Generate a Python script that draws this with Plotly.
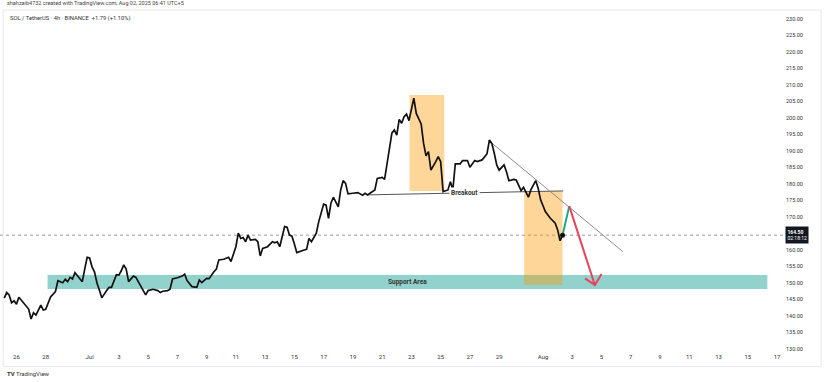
import pandas as pd
import plotly.graph_objects as go

START = pd.Timestamp("2025-06-26 00:00")

# hours since Jun 26 00:00 (4h bars) and close prices
bar_hours = [-20, -16, -12, -8, -4, 0, 4, 8, 12, 16, 20, 24, 28, 32, 40, 44, 48, 56, 64, 68,
             76, 80, 84, 88, 92, 96, 104, 108, 112, 116, 120, 124, 128, 132, 136, 140, 148, 152, 156, 164,
             168, 172, 176, 180, 184, 192, 196, 200, 208, 212, 216, 224, 232, 236, 240, 248, 252, 256, 264, 272,
             276, 280, 288, 296, 300, 304, 312, 316, 324, 328, 332, 340, 348, 352, 360, 364, 368, 372, 376, 380,
             384, 392, 396, 400, 404, 412, 420, 424, 428, 432, 440, 444, 448, 452, 456, 460, 472, 476, 480, 484,
             492, 496, 504, 508, 512, 516, 520, 524, 528, 532, 536, 540, 544, 552, 560, 568, 572, 576, 584, 588,
             592, 600, 604, 608, 612, 616, 620, 624, 628, 632, 636, 640, 644, 648, 652, 656, 664, 668, 672, 676,
             680, 688, 692, 696, 700, 708, 712, 716, 720, 728, 732, 740, 744, 752, 756, 764, 772, 776, 780, 784,
             788, 792, 800, 804, 808, 816, 820, 828, 832, 840, 844, 852, 856, 860, 868, 876, 884, 888, 892, 896]
close = [145.4, 147.1, 146.4, 144.0, 144.6, 143.6, 145.7, 144.8, 143.6, 142.8, 142.1, 139.1, 141.0, 140.3, 143.3, 141.8, 142.0, 145.8, 147.4, 150.7,
         150.1, 151.1, 150.4, 151.7, 151.2, 153.1, 151.1, 150.4, 154.2, 157.8, 157.6, 154.9, 153.4, 150.1, 147.9, 145.5, 147.7, 148.7, 148.7, 152.5,
         152.4, 153.7, 155.5, 154.2, 150.4, 152.1, 151.7, 150.4, 147.6, 146.4, 147.7, 148.1, 147.7, 147.1, 147.5, 147.7, 148.1, 151.2, 151.6, 152.1,
         152.7, 150.7, 148.9, 148.7, 150.9, 150.1, 151.4, 151.3, 153.4, 154.2, 157.0, 157.2, 157.8, 156.5, 161.0, 165.1, 163.5, 163.8, 162.5, 164.5,
         163.0, 163.2, 162.5, 158.2, 160.5, 161.0, 162.5, 162.2, 162.5, 161.0, 167.1, 166.9, 164.5, 164.2, 161.8, 159.2, 160.0, 160.2, 163.5, 162.5,
         165.1, 168.6, 173.9, 173.6, 169.6, 174.2, 176.0, 174.3, 173.1, 178.2, 181.0, 180.2, 177.0, 177.2, 177.4, 176.6, 177.2, 176.7, 177.7, 178.2,
         181.7, 182.0, 181.4, 186.3, 190.6, 195.4, 196.4, 194.8, 199.6, 198.4, 200.4, 201.2, 199.2, 202.4, 206.0, 201.4, 198.2, 192.3, 188.5, 189.8,
         184.2, 186.8, 188.3, 186.8, 177.7, 178.2, 180.7, 178.2, 186.1, 186.1, 187.1, 187.1, 185.1, 187.1, 186.8, 187.3, 189.1, 193.3, 192.3, 189.3,
         185.8, 184.2, 185.8, 183.7, 181.0, 181.4, 181.2, 178.0, 179.0, 176.0, 178.2, 181.0, 178.7, 175.2, 171.6, 169.6, 168.1, 166.1, 162.8, 164.5]

last_price = 164.50
countdown = "02:18:12"

# drawings (hours since Jun 26, price)
support_hours = [51, 1232]
support_prices = [148.2, 152.4]
box1_hours = [645, 702]
box1_prices = [177.9, 207.0]
box2_hours = [833, 896]
box2_prices = [149.4, 177.9]
breakout_hours = [576, 897]
breakout_prices = [176.7, 177.9]
trend_hours = [774, 995]
trend_prices = [193.3, 159.5]
green_hours = [896, 907]
green_prices = [164.5, 173.3]
red_hours = [907, 949]
red_prices = [173.3, 149.4]
head_hours = [933, 949, 960]
head_prices = [151.4, 149.4, 152.7]

tick_dates = ["2025-06-26", "2025-06-28", "2025-07-01", "2025-07-03", "2025-07-05", "2025-07-07",
              "2025-07-09", "2025-07-11", "2025-07-13", "2025-07-15", "2025-07-17", "2025-07-19",
              "2025-07-21", "2025-07-23", "2025-07-25", "2025-07-27", "2025-07-29", "2025-08-01",
              "2025-08-03", "2025-08-05", "2025-08-07", "2025-08-09", "2025-08-11", "2025-08-13",
              "2025-08-15", "2025-08-17"]
tick_text = ["26", "28", "Jul", "3", "5", "7", "9", "11", "13", "15", "17", "19", "21", "23",
             "25", "27", "29", "Aug", "3", "5", "7", "9", "11", "13", "15", "17"]
# 165.00 is hidden behind the last-price label in the reference
price_ticks = [130, 135, 140, 145, 150, 155, 160, 170, 175, 180, 185, 190, 195, 200,
               205, 210, 215, 220, 225, 230]


def T(h):
    return START + pd.Timedelta(hours=h)


FONT = "Roboto"
times = [T(h) for h in bar_hours]

fig = go.Figure()

shapes = [
    dict(type="rect", xref="x", yref="y", x0=T(support_hours[0]), x1=T(support_hours[1]),
         y0=support_prices[0], y1=support_prices[1], fillcolor="rgba(38,166,154,0.5)",
         line=dict(width=0), layer="below"),
    dict(type="rect", xref="x", yref="y", x0=T(box1_hours[0]), x1=T(box1_hours[1]),
         y0=box1_prices[0], y1=box1_prices[1], fillcolor="rgba(255,152,0,0.4)",
         line=dict(width=0), layer="below"),
    dict(type="rect", xref="x", yref="y", x0=T(box2_hours[0]), x1=T(box2_hours[1]),
         y0=box2_prices[0], y1=box2_prices[1], fillcolor="rgba(255,152,0,0.4)",
         line=dict(width=0), layer="below"),
    dict(type="line", xref="paper", yref="y", x0=0, x1=1, y0=last_price, y1=last_price,
         line=dict(color="#9a9a9a", width=1, dash="dot"), layer="below"),
    # faint chart frame
    dict(type="rect", xref="paper", yref="paper", x0=0.004, x1=1.046, y0=-0.043, y1=1.0,
         line=dict(color="#e6e8ee", width=1), fillcolor="rgba(0,0,0,0)", layer="below"),
]
fig.update_layout(shapes=shapes)

fig.add_trace(go.Scatter(x=[T(h) for h in breakout_hours], y=breakout_prices, mode="lines",
                         line=dict(color="#555555", width=1), hoverinfo="skip"))
fig.add_trace(go.Scatter(x=[T(h) for h in trend_hours], y=trend_prices, mode="lines",
                         line=dict(color="#8c8c8c", width=1), hoverinfo="skip"))
fig.add_trace(go.Scatter(x=times, y=close, mode="lines",
                         line=dict(color="#111111", width=1.7)))
fig.add_trace(go.Scatter(x=[T(h) for h in green_hours], y=green_prices, mode="lines",
                         line=dict(color="#1fa58c", width=2)))
fig.add_trace(go.Scatter(x=[T(h) for h in red_hours], y=red_prices, mode="lines",
                         line=dict(color="#e8435a", width=2)))
fig.add_trace(go.Scatter(x=[T(h) for h in head_hours], y=head_prices, mode="lines",
                         line=dict(color="#e8435a", width=2)))
fig.add_trace(go.Scatter(x=[times[-1]], y=[close[-1]], mode="markers",
                         marker=dict(color="#111111", size=5)))

ann = [
    dict(x=T(735), y=177.3, xref="x", yref="y", text="<b>Breakout</b>", showarrow=False,
         font=dict(family=FONT, size=6.5, color="#333333"), bgcolor="white", borderpad=1),
    dict(x=T(642), y=150.3, xref="x", yref="y", text="<b>Support Area</b>", showarrow=False,
         font=dict(family=FONT, size=6.5, color="#333333")),
    dict(x=0.006, y=1.02, xref="paper", yref="paper", xanchor="left", yanchor="middle",
         text="shahzaib4732 created with TradingView.com, Aug 02, 2025 06:41 UTC+5", showarrow=False,
         font=dict(family=FONT, size=5.5, color="#444444")),
    dict(x=0.01, y=0.975, xref="paper", yref="paper", xanchor="left", yanchor="middle",
         text="SOL / TetherUS · 4h · BINANCE  +1.79 (+1.10%)", showarrow=False,
         font=dict(family=FONT, size=5.8, color="#333333")),
    dict(x=0.006, y=-0.062, xref="paper", yref="paper", xanchor="left", yanchor="middle",
         text="<b>TV</b> TradingView", showarrow=False,
         font=dict(family=FONT, size=6, color="#333333")),
    dict(x=1.0, y=last_price, xref="paper", yref="y", xanchor="left", yanchor="middle",
         text=f"<b>{last_price:.2f}</b><br>{countdown}", showarrow=False, align="left",
         font=dict(family=FONT, size=5, color="white"), bgcolor="#131722", borderpad=1.5),
]
fig.update_layout(annotations=ann)

fig.update_layout(
    width=825, height=382,
    margin=dict(l=0, r=40, t=10, b=30),
    paper_bgcolor="white", plot_bgcolor="white",
    showlegend=False,
    font=dict(family=FONT, size=6, color="#333333"),
    xaxis=dict(range=[T(-27), T(1261)], tickvals=[pd.Timestamp(d) for d in tick_dates],
               ticktext=tick_text, showgrid=False, zeroline=False, showline=False,
               ticks="", tickfont=dict(size=6, color="#333333")),
    yaxis=dict(range=[129.09, 232.73], side="right", tickvals=price_ticks, tickformat=".2f",
               showgrid=False, zeroline=False, showline=False, ticks="",
               tickfont=dict(size=5.5, color="#333333")),
)

fig.write_html("out.html", config={"displayModeBar": False},
               post_script="document.body.style.margin='0px';")
